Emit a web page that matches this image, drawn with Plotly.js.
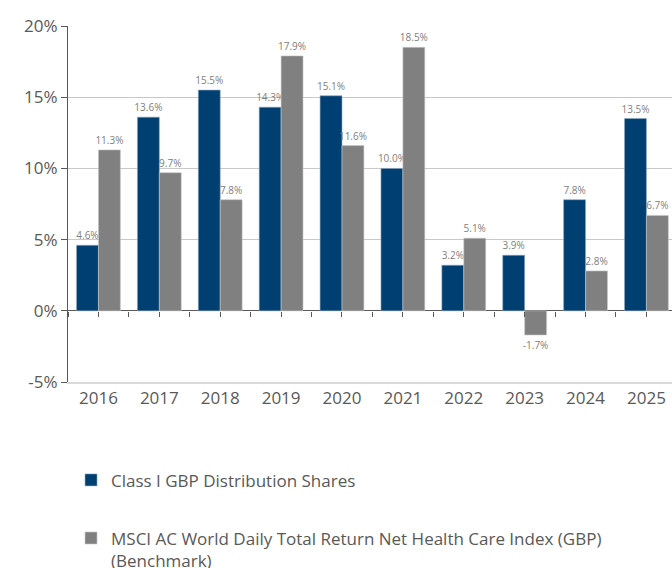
<!DOCTYPE html>
<html>
<head>
<meta charset="utf-8">
<script src="https://cdn.plot.ly/plotly-3.0.1.min.js"></script>
<style>html,body{margin:0;padding:0;background:#fff;}#chart{width:672px;height:568px;}</style>
</head>
<body>
<div id="chart"></div>
<script>
const years = ["2016","2017","2018","2019","2020","2021","2022","2023","2024","2025"];
const fundName = "Class I GBP Distribution Shares";
const fundValues = [4.6, 13.6, 15.5, 14.3, 15.1, 10.0, 3.2, 3.9, 7.8, 13.5];
const benchName = "MSCI AC World Daily Total Return Net Health Care Index (GBP)<br>(Benchmark)";
const benchValues = [11.3, 9.7, 7.8, 17.9, 11.6, 18.5, 5.1, -1.7, 2.8, 6.7];
const halfTicks = [-0.5,0,0.5,1,1.5,2,2.5,3,3.5,4,4.5,5,5.5,6,6.5,7,7.5,8,8.5,9,9.5];

const fmt = v => v.toFixed(1) + "%";
const labelFont = {family: "Open Sans, Arial, sans-serif", size: 10, color: "#808080"};

const traces = [
  {
    type: "bar", name: fundName, x: years, y: fundValues,
    marker: {color: "#003f72", line: {color: "#8fa9c2", width: 0.6}},
    text: fundValues.map(fmt), textposition: "outside", textfont: labelFont,
    cliponaxis: false, constraintext: "none", legendgroup: "a", hoverinfo: "skip"
  },
  {
    type: "bar", name: benchName, x: years, y: benchValues,
    marker: {color: "#808080", line: {color: "#c8c8c8", width: 0.6}},
    text: benchValues.map(fmt), textposition: "outside", textfont: labelFont,
    cliponaxis: false, constraintext: "none", legendgroup: "b", hoverinfo: "skip"
  },
  {
    type: "scatter", x: [0], y: [0], xaxis: "x2", mode: "markers",
    marker: {opacity: 0}, showlegend: false, hoverinfo: "skip"
  }
];

const layout = {
  width: 672, height: 568,
  margin: {l: 68, r: 0, t: 26, b: 186},
  paper_bgcolor: "#ffffff", plot_bgcolor: "#ffffff",
  font: {family: "Open Sans, Arial, sans-serif", color: "#595959"},
  barmode: "group", bargap: 0.28, bargroupgap: 0,
  showlegend: true,
  legend: {
    orientation: "v", xref: "paper", yref: "container",
    x: 0.005, xanchor: "left", y: 0.186, yanchor: "top",
    font: {size: 17, color: "#595959"}, tracegroupgap: 33, traceorder: "grouped",
    itemwidth: 30, valign: "top", bgcolor: "rgba(0,0,0,0)"
  },
  xaxis: {
    type: "category", range: [-0.5, 9.42],
    showgrid: false, ticks: "", showline: true, linecolor: "#d9d9d9", linewidth: 2,
    tickfont: {size: 17, color: "#595959"}, fixedrange: true
  },
  xaxis2: {
    overlaying: "x", anchor: "free", position: 0.2, range: [-0.5, 9.42],
    tickmode: "array", tickvals: halfTicks, showticklabels: false,
    ticks: "outside", ticklen: 5, tickcolor: "#595959", tickwidth: 1,
    showgrid: false, showline: false, zeroline: false, fixedrange: true
  },
  yaxis: {
    range: [-5, 20], tickmode: "array", tickvals: [-5, 0, 5, 10, 15, 20],
    ticktext: ["-5%", "0%", "5%", "10%", "15%", "20%"],
    showgrid: true, gridcolor: "#c8c8c8", gridwidth: 1,
    zeroline: true, zerolinecolor: "#595959", zerolinewidth: 1,
    showline: true, linecolor: "#595959", linewidth: 1,
    ticks: "outside", ticklen: 6, tickcolor: "#595959",
    tickfont: {size: 17, color: "#595959"}, fixedrange: true
  }
};

Plotly.newPlot("chart", traces, layout, {displayModeBar: false, staticPlot: true});
</script>
</body>
</html>
